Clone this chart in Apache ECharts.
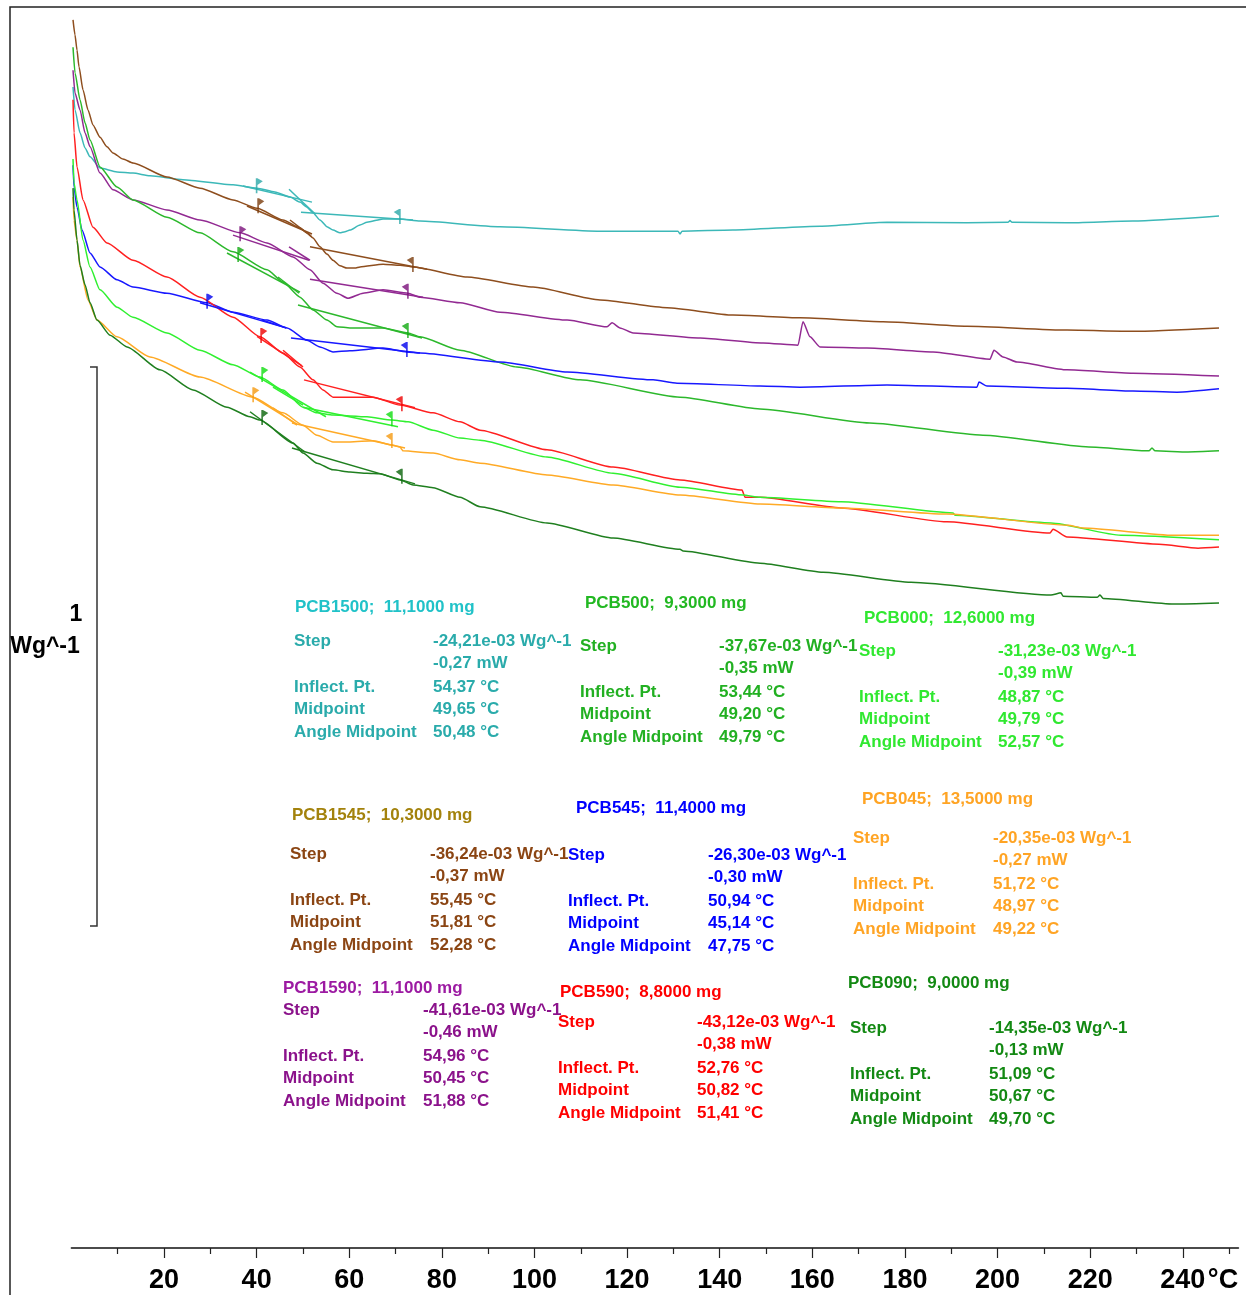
<!DOCTYPE html>
<html><head><meta charset="utf-8">
<script src="https://cdn.jsdelivr.net/npm/echarts@6/dist/echarts.min.js"></script>
<style>html,body{margin:0;padding:0;background:#fff}#c{width:1246px;height:1295px}</style>
</head><body><div id="c"></div>
<script>
// ---------- axis ticks ----------
const xMajorTicks = [20,40,60,80,100,120,140,160,180,200,220,240];
const xMinorTicks = [10,30,50,70,90,110,130,150,170,190,210,230,250];
const xUnit = '°C';
const scaleBarLabel = ['1', 'Wg^-1'];
const scaleBarValue = [0.576, 1.576]; // 1 W/g scale bar (relative heat flow)

// ---------- samples / evaluation results ----------
const samples   = ['PCB1500','PCB1545','PCB1590','PCB500','PCB545','PCB590','PCB000','PCB045','PCB090'];
const masses    = ['11,1000','10,3000','11,1000','9,3000','11,4000','8,8000','12,6000','13,5000','9,0000'];
const stepWg    = ['-24,21e-03','-36,24e-03','-41,61e-03','-37,67e-03','-26,30e-03','-43,12e-03','-31,23e-03','-20,35e-03','-14,35e-03'];
const stepMW    = ['-0,27','-0,37','-0,46','-0,35','-0,30','-0,38','-0,39','-0,27','-0,13'];
const inflectPt = ['54,37','55,45','54,96','53,44','50,94','52,76','48,87','51,72','51,09'];
const midpoint  = ['49,65','51,81','50,45','49,20','45,14','50,82','49,79','48,97','50,67'];
const angleMid  = ['50,48','52,28','51,88','49,79','47,75','51,41','52,57','49,22','49,70'];

// ---------- DSC curves: [temperature °C, heat flow W/g (relative)] ----------
const pcb1500 = [[0.35,2.077],[0.78,2.036],[1.86,1.995],[2.94,1.968],[4.02,1.952],[6.18,1.932],[9.85,1.925],[13.3,1.923],[16.97,1.918],[24.1,1.911],[34.9,1.902],[40.08,1.896],[43.96,1.889],[47.2,1.880],[49.36,1.871],[50.87,1.862],[52.17,1.852],[53.68,1.839],[55.19,1.827],[56.49,1.821],[58.0,1.816],[59.08,1.818],[60.16,1.821],[62.32,1.830],[63.83,1.835],[67.29,1.841],[70.96,1.841],[75.28,1.837],[92.56,1.827],[114.15,1.819],[130.99,1.819],[131.43,1.814],[131.86,1.819],[142.86,1.821],[161.65,1.828],[176.12,1.835],[193.39,1.834],[202.25,1.835],[202.68,1.838],[203.11,1.835],[214.99,1.834],[229.24,1.837],[247.81,1.846]];
const pcb1545 = [[0.35,2.197],[0.78,2.170],[1.21,2.143],[1.64,2.113],[2.50,2.072],[3.58,2.036],[4.66,2.009],[6.18,1.987],[7.69,1.970],[8.98,1.959],[11.14,1.948],[13.30,1.941],[20.64,1.916],[27.77,1.896],[34.90,1.875],[40.08,1.860],[45.69,1.839],[49.36,1.825],[50.87,1.816],[52.17,1.807],[53.68,1.791],[55.19,1.778],[56.49,1.767],[58.00,1.757],[59.51,1.753],[61.24,1.753],[62.32,1.755],[67.29,1.760],[70.96,1.758],[73.77,1.755],[85.43,1.737],[99.68,1.719],[114.15,1.696],[128.62,1.682],[142.86,1.669],[157.33,1.664],[175.26,1.657],[193.39,1.649],[214.99,1.642],[229.24,1.640],[247.81,1.646]];
const pcb1590 = [[0.35,2.107],[0.78,2.066],[1.86,2.036],[2.94,1.995],[4.02,1.970],[6.18,1.923],[8.98,1.893],[13.30,1.875],[20.64,1.857],[27.77,1.839],[36.41,1.816],[42.24,1.798],[47.85,1.773],[51.52,1.750],[54.33,1.726],[57.35,1.708],[59.73,1.699],[62.97,1.708],[67.29,1.714],[72.69,1.708],[75.28,1.701],[83.92,1.691],[92.56,1.674],[107.03,1.660],[115.67,1.648],[116.75,1.655],[118.46,1.646],[121.28,1.637],[135.75,1.628],[149.35,1.619],[156.90,1.615],[157.98,1.657],[159.49,1.630],[161.65,1.612],[171.80,1.610],[186.05,1.603],[198.36,1.590],[199.22,1.606],[201.17,1.594],[204.19,1.585],[214.99,1.571],[229.24,1.565],[247.81,1.560]];
const pcb500  = [[0.35,2.148],[0.78,2.102],[1.86,2.054],[2.94,2.013],[4.02,1.982],[6.18,1.934],[9.85,1.898],[13.30,1.875],[20.64,1.844],[27.77,1.816],[34.90,1.782],[42.24,1.750],[45.69,1.728],[49.36,1.701],[52.17,1.678],[55.19,1.660],[57.35,1.648],[60.16,1.646],[67.29,1.646],[72.69,1.637],[75.28,1.630],[83.92,1.606],[96.23,1.576],[109.83,1.553],[131.43,1.522],[148.70,1.501],[172.4,1.476],[196.85,1.454],[219.73,1.433],[232.69,1.426],[233.34,1.431],[234.0,1.426],[241.12,1.424],[247.81,1.426]];
const pcb545  = [[0.35,1.937],[0.56,1.898],[1.21,1.862],[2.29,1.821],[4.02,1.780],[6.18,1.755],[9.85,1.732],[13.30,1.719],[20.64,1.708],[29.28,1.691],[34.90,1.674],[42.24,1.660],[46.56,1.646],[50.87,1.624],[53.68,1.612],[56.49,1.603],[60.16,1.605],[67.29,1.610],[72.47,1.603],[75.28,1.601],[92.56,1.585],[107.03,1.567],[125.60,1.553],[130.78,1.547],[148.70,1.542],[157.33,1.540],[176.12,1.544],[195.55,1.540],[195.98,1.549],[197.71,1.542],[214.99,1.538],[229.24,1.533],[238.74,1.531],[247.81,1.537]];
const pcb590  = [[0.35,2.054],[0.56,1.995],[1.21,1.934],[2.50,1.875],[4.66,1.826],[7.69,1.798],[13.30,1.767],[20.64,1.737],[27.77,1.701],[34.90,1.665],[40.73,1.630],[45.69,1.601],[49.36,1.576],[52.17,1.553],[54.33,1.535],[56.49,1.522],[60.16,1.522],[65.13,1.522],[70.96,1.508],[78.09,1.494],[83.92,1.478],[88.24,1.463],[102.71,1.428],[116.96,1.397],[131.43,1.374],[144.81,1.356],[145.46,1.343],[148.70,1.343],[166.19,1.324],[189.07,1.299],[211.32,1.279],[211.97,1.286],[214.99,1.272],[234.85,1.259],[243.28,1.252],[247.81,1.254]];
const pcb000  = [[0.35,1.948],[0.56,1.905],[1.21,1.875],[2.50,1.803],[4.02,1.755],[6.18,1.714],[9.85,1.683],[13.30,1.665],[20.64,1.637],[27.77,1.606],[34.90,1.580],[40.73,1.558],[45.69,1.535],[50.01,1.504],[53.03,1.494],[56.49,1.490],[63.83,1.487],[69.23,1.481],[72.69,1.478],[78.09,1.463],[83.92,1.449],[88.24,1.445],[102.71,1.415],[116.96,1.386],[131.43,1.361],[145.03,1.347],[148.70,1.343],[166.19,1.335],[190.37,1.315],[190.80,1.311],[211.53,1.297],[226.64,1.275],[247.81,1.267]];
const pcb045  = [[0.35,1.880],[0.56,1.839],[1.21,1.803],[1.86,1.755],[3.58,1.696],[5.53,1.660],[9.85,1.630],[16.97,1.594],[27.77,1.558],[39.22,1.522],[45.69,1.494],[50.01,1.472],[53.03,1.454],[56.49,1.442],[60.16,1.442],[65.13,1.444],[69.45,1.436],[70.96,1.433],[71.39,1.428],[71.61,1.426],[78.09,1.422],[83.92,1.410],[88.24,1.404],[102.71,1.383],[116.96,1.365],[131.43,1.347],[148.70,1.331],[166.19,1.324],[188.86,1.313],[215.20,1.293],[218.44,1.288],[238.09,1.275],[247.81,1.275]];
const pcb090  = [[0.35,1.896],[0.56,1.857],[1.21,1.803],[1.86,1.758],[2.94,1.723],[4.02,1.691],[5.53,1.660],[8.34,1.633],[12.01,1.612],[19.13,1.571],[26.26,1.535],[33.60,1.504],[38.57,1.487],[40.73,1.481],[47.85,1.440],[50.01,1.422],[53.03,1.404],[56.49,1.392],[60.16,1.388],[63.83,1.386],[66.64,1.385],[70.96,1.374],[73.77,1.365],[78.09,1.360],[83.92,1.343],[88.24,1.326],[102.71,1.297],[116.96,1.270],[131.43,1.250],[132.08,1.247],[148.70,1.225],[162.30,1.209],[181.30,1.191],[211.53,1.168],[213.69,1.172],[214.13,1.166],[221.5,1.164],[222.11,1.168],[222.8,1.162],[238.09,1.152],[247.81,1.154]];
const curves = [pcb1500,pcb1545,pcb1590,pcb500,pcb545,pcb590,pcb000,pcb045,pcb090];

// ---------- glass transition evaluation marks ----------
const onsetFlags = [[39.97,1.896],[40.29,1.860],[36.41,1.810],[35.98,1.773],[29.28,1.689],[40.94,1.628],[41.16,1.558],[39.22,1.522],[41.16,1.481]];
const endFlags   = [[70.96,1.841],[73.77,1.755],[72.69,1.707],[72.69,1.637],[72.47,1.603],[71.39,1.506],[69.23,1.479],[69.23,1.440],[71.39,1.376]];
// tangent segments per sample: [x1,y1,x2,y2]
const tangents1500 = [[37.04,1.900,51.95,1.871],[46.99,1.894,52.60,1.850],[49.58,1.853,73.77,1.839]];
const tangents1545 = [[37.90,1.864,51.95,1.814],[47.20,1.839,51.73,1.810],[51.52,1.791,76.79,1.751]];
const tangents1590 = [[34.90,1.812,51.31,1.767],[46.99,1.791,51.52,1.767],[51.52,1.733,75.93,1.701]];
const tangents500  = [[33.60,1.780,49.36,1.710],[44.61,1.737,49.15,1.708],[48.93,1.687,75.71,1.628]];
const tangents545  = [[27.77,1.691,46.34,1.646],[41.16,1.660,46.34,1.646],[47.42,1.628,75.28,1.601]];
const tangents590  = [[40.08,1.631,49.79,1.578],[45.69,1.606,50.01,1.576],[50.23,1.553,74.20,1.503]];
const tangents000  = [[38.57,1.567,54.97,1.487],[43.53,1.540,50.01,1.508],[50.01,1.504,70.52,1.469]];
const tangents045  = [[37.49,1.531,48.71,1.474],[43.53,1.503,48.71,1.472],[47.63,1.476,72.04,1.431]];
const tangents090  = [[38.57,1.496,50.44,1.424],[47.63,1.431,74.20,1.367]];
const tangents = [tangents1500,tangents1545,tangents1590,tangents500,tangents545,tangents590,tangents000,tangents045,tangents090];

// ---------- styles / layout ----------
const curveColors = ['#3cb8b8','#8e4e1e','#922a92','#2cb82c','#1818ff','#ff2020','#30f030','#ffaa26','#1f7f1f'];
const flagColors  = ['#2aa8a8','#7a3c0c','#7a107a','#10aa10','#0000ee','#ee0000','#10dd10','#f59a10','#0a640a'];
const titleColors = ['#20c2c8','#a3820c','#9c1aa2','#22b822','#0000ff','#ff0000','#30e830','#ffa424','#138913'];
const textColors  = ['#2aabab','#8b4513','#8b128b','#22b022','#0000ff','#ff0000','#30e830','#ffa424','#138913'];
// [titleX, titleY, labelX, valueX, firstRowY]
const blockPos = [[295,607,294,433,641],[292,815,290,430,854],[283,988,283,423,1010],[585,603,580,719,646],[576,808,568,708,855],[560,992,558,697,1022],[864,618,859,998,651],[862,799,853,993,838],[848,983,850,989,1028]];
const rowOffsets = [0,22,46,68,91];

const FONT = '"Liberation Sans", Arial, sans-serif';
const TXT = 'bold 17px ' + FONT;
const AXFONT = '"Liberation Sans", Arial, sans-serif';
const FLAG_R = 'path://M0,0 L1.4,0 L6,2.8 L1.4,6.5 L1.4,14 L0,14 Z';
const FLAG_L = 'path://M6,0 L4.6,0 L0,2.8 L4.6,6.5 L4.6,14 L6,14 Z';

const series = [];
curves.forEach((c,i)=>{
  series.push({type:'line', data:c, showSymbol:false, symbol:'none', smooth:0.2, smoothMonotone:'x',
    lineStyle:{color:curveColors[i], width:1.5}, z:2, silent:true});
});
tangents.forEach((t,i)=>{
  series.push({type:'lines', coordinateSystem:'cartesian2d', polyline:false,
    data:t.map(s=>({coords:[[s[0],s[1]],[s[2],s[3]]]})),
    lineStyle:{color:curveColors[i], width:1.5, opacity:1}, z:3, silent:true});
});
series.push({type:'scatter', data:onsetFlags.map((p,i)=>({value:p, itemStyle:{color:flagColors[i]}})),
  symbol:FLAG_R, symbolSize:[7,15], symbolOffset:[2.8,-2.5], z:4, silent:true});
series.push({type:'scatter', data:endFlags.map((p,i)=>({value:p, itemStyle:{color:flagColors[i]}})),
  symbol:FLAG_L, symbolSize:[7,15], symbolOffset:[-2.8,-2.5], z:4, silent:true});

// ---------- graphic: frame, text blocks ----------
const graphic = [
  {type:'rect', shape:{x:10,y:7,width:1400,height:1400}, style:{fill:'none', stroke:'#222', lineWidth:1.5}, silent:true},
];
samples.forEach((s,i)=>{
  const [tx,ty,lx,vx,ry] = blockPos[i];
  graphic.push({type:'text', x:tx, y:ty, style:{text:s+';  '+masses[i]+' mg', fill:titleColors[i], font:TXT, verticalAlign:'middle'}});
  const labels = ['Step','','Inflect. Pt.','Midpoint','Angle Midpoint'];
  const values = [stepWg[i]+' Wg^-1', stepMW[i]+' mW', inflectPt[i]+' °C', midpoint[i]+' °C', angleMid[i]+' °C'];
  labels.forEach((l,k)=>{
    if(l) graphic.push({type:'text', x:lx, y:ry+rowOffsets[k], style:{text:l, fill:textColors[i], font:TXT, verticalAlign:'middle'}});
    graphic.push({type:'text', x:vx, y:ry+rowOffsets[k], style:{text:values[k], fill:textColors[i], font:TXT, verticalAlign:'middle'}});
  });
});

const chart = echarts.init(document.getElementById('c'), null, {renderer:'canvas'});
chart.setOption({
  animation:false,
  backgroundColor:'#fff',
  grid:{left:71.4, right:7.6, top:18.2, bottom:47},
  xAxis:[{
    type:'value', min:0, max:252, interval:20, position:'bottom',
    axisLine:{show:true, onZero:false, lineStyle:{color:'#111', width:1.6}},
    axisTick:{show:true, length:10, customValues:xMajorTicks, lineStyle:{color:'#222', width:1.2}},
    axisLabel:{show:true, customValues:xMajorTicks, margin:19, color:'#000',
      fontFamily:AXFONT, fontWeight:'bold', fontSize:27},
    splitLine:{show:false}
  },{
    type:'value', min:0, max:252, position:'bottom', offset:0,
    axisLine:{show:false},
    axisTick:{show:true, length:6, customValues:xMinorTicks, lineStyle:{color:'#222', width:1.2}},
    axisLabel:{show:false}, splitLine:{show:false}
  }],
  yAxis:{type:'value', min:0, max:2.2, show:false},
  series: series,
  graphic: graphic
});

// scale bar and unit labels positioned through the axis scales
const barTop = chart.convertToPixel({yAxisIndex:0}, scaleBarValue[1]);
const barBot = chart.convertToPixel({yAxisIndex:0}, scaleBarValue[0]);
const axisY = chart.convertToPixel({yAxisIndex:0}, 0);
const x240 = chart.convertToPixel({xAxisIndex:0}, 240);
graphic.push(
  {type:'polyline', shape:{points:[[90,barTop],[97,barTop],[97,barBot],[90,barBot]]}, style:{stroke:'#333', lineWidth:1.5, fill:'none'}, silent:true},
  {type:'text', x:76, y:615, style:{text:scaleBarLabel[0], fill:'#000', font:'bold 23px '+FONT, align:'center', verticalAlign:'middle'}},
  {type:'text', x:45, y:647, style:{text:scaleBarLabel[1], fill:'#000', font:'bold 23px '+FONT, align:'center', verticalAlign:'middle'}},
  {type:'text', x:x240+25, y:axisY+33, style:{text:xUnit, fill:'#000', font:'bold 27px '+AXFONT, verticalAlign:'middle'}}
);
chart.setOption({graphic: graphic});
</script></body></html>
